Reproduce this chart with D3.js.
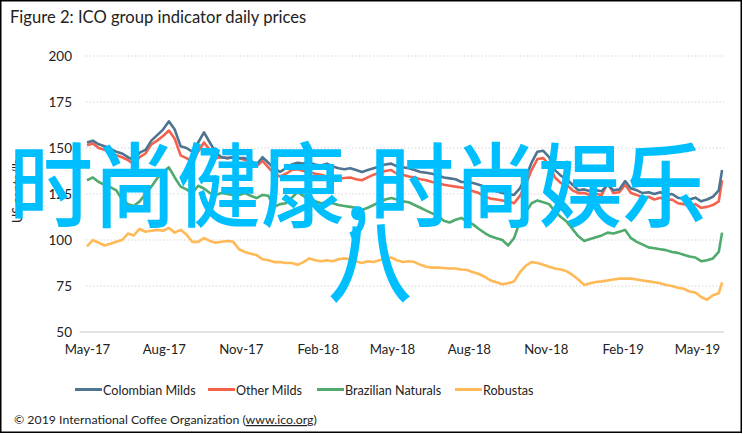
<!DOCTYPE html>
<html><head><meta charset="utf-8">
<script src="https://cdn.jsdelivr.net/npm/d3@7"></script>
<style>body{margin:0;background:#fff}svg{display:block}</style>
</head><body>
<svg id="c" width="743" height="435"></svg>
<script>
const dates = ["2017-05-01","2017-05-08","2017-05-15","2017-05-22","2017-05-29","2017-06-05","2017-06-12","2017-06-19","2017-06-26","2017-07-03","2017-07-10","2017-07-17","2017-07-24","2017-07-31","2017-08-07","2017-08-14","2017-08-21","2017-08-28","2017-09-04","2017-09-11","2017-09-18","2017-09-25","2017-10-02","2017-10-09","2017-10-16","2017-10-23","2017-10-30","2017-11-06","2017-11-13","2017-11-20","2017-11-27","2017-12-04","2017-12-11","2017-12-18","2017-12-25","2018-01-01","2018-01-08","2018-01-15","2018-01-22","2018-01-29","2018-02-05","2018-02-12","2018-02-19","2018-02-26","2018-03-05","2018-03-12","2018-03-19","2018-03-26","2018-04-02","2018-04-09","2018-04-16","2018-04-23","2018-04-30","2018-05-07","2018-05-14","2018-05-21","2018-05-28","2018-06-04","2018-06-11","2018-06-18","2018-06-25","2018-07-02","2018-07-09","2018-07-16","2018-07-23","2018-07-30","2018-08-06","2018-08-13","2018-08-20","2018-08-27","2018-09-03","2018-09-10","2018-09-17","2018-09-24","2018-10-01","2018-10-08","2018-10-15","2018-10-22","2018-10-29","2018-11-05","2018-11-12","2018-11-19","2018-11-26","2018-12-03","2018-12-10","2018-12-17","2018-12-24","2018-12-31","2019-01-07","2019-01-14","2019-01-21","2019-01-28","2019-02-04","2019-02-11","2019-02-18","2019-02-25","2019-03-04","2019-03-11","2019-03-18","2019-03-25","2019-04-01","2019-04-08","2019-04-15","2019-04-22","2019-04-29","2019-05-06","2019-05-13","2019-05-20","2019-05-27","2019-05-31"];

const colombianMilds = [153,154,152,151,149.5,148,147,145,143.5,147.5,149,154,157,160,164.5,160,151,150,148,153,158.5,153,147.5,145,144.5,145,144.5,144.5,143,141,145,142,139,137,139,141,142,141.5,142,141,140.5,141.5,140,139,138.5,139,138,137,138,139,140,141,141.5,140,139.5,139,138,137,136.5,136,135,134,133.5,133,131.5,131.5,131,130,129,128,126.5,125.5,125,124.5,128,134,142,148,148.5,145,138,135,133,130,127,127.5,126.5,127,126.5,130,127,127.5,132,128,127,125.5,126,125,126,124.5,125,123,122.5,122,123,121,122,123.5,127,138];

const otherMilds = [151.5,152.5,150,149,147.5,146,145,143.5,141,145,147,152,154,156.5,159.5,155,146,144.5,142.5,148,153,149,144.5,145,144.5,145,144.5,143.5,142.5,140,143,139.5,136,134.5,136,138,138.5,137.5,137,136,135.5,134.5,134,133.5,133.7,134,133,132.5,134,135.5,136.5,137.5,138,136,135.5,134.5,134,133,132.5,131.5,131,130,129.5,129,128.5,128,126.5,125.5,123.5,122.5,122,121.5,121,120,124,130,138,144,144.5,141,134,131,130,127,125.5,125.5,124.5,125,124.5,131,125.5,126,130,125.5,124.5,123,123.5,122,123,121.5,122,120,119.5,118.5,119.5,117.5,118,119,121,132.5];

const brazilianNaturals = [132.5,134,131.5,130,128.8,127,122,119.5,118.5,121,125,129,133.5,137,139.5,134,129,127.5,125.5,129.5,128,125.5,124.5,125.5,125,124.5,124.5,125.5,124,122.8,124.5,124,118,119.5,120,123,126,124,122,121,120,120.5,120,119,118.5,118,117.5,116.3,117.5,119,120.5,122,122.8,122,121,120.5,119,117.5,116,114.5,113,110.5,109.5,111,112,110,108.5,106,103.8,102,101,100,97,101,110,115,120,121.5,120.5,119.5,115.5,112.5,110,106,102,99.5,100.5,101.5,102.5,104,103.5,104.5,105.5,101,99,97.5,96,95.5,95,94.5,93.5,93,92,91,90.5,88.5,89,90,93.5,104];

const robustas = [96.5,100,98.5,97,98,99,100,103.5,102.5,106,104.5,105,105.5,105,106.5,104,105.5,103,99,99,101,99.5,98.5,99,99.5,99,95,93.5,92.5,91.8,89.5,89,88,88,87.5,87.5,86.5,88,90,89,88.5,89,88.5,89.5,90,89.5,88.5,87.5,88.5,88,89,90,90.5,89,88,88.5,88,86.5,85.5,85,85,84.8,84.5,84.5,84,83.7,82.5,81.5,80,78,77,76,76.5,77.5,82.5,86,88,87.5,86.5,85.5,84.5,84,83,81,78.5,75.5,76.5,77.2,77.5,78,78.5,79,79,79,78.5,78,77.5,77,76.5,75.5,75,74,73.5,72,71.5,69,67.5,70,71,77];

const seriesNames = ["Colombian Milds","Other Milds","Brazilian Naturals","Robustas"];
const seriesColors = ["#4f7490","#f4624e","#4faa6c","#ffb957"];
const yTicks = [50,75,100,125,150,175,200];
const xTickDates = ["2017-05-01","2017-08-01","2017-11-01","2018-02-01","2018-05-01","2018-08-01","2018-11-01","2019-02-01","2019-05-01"];
const xTickLabels = ["May-17","Aug-17","Nov-17","Feb-18","May-18","Aug-18","Nov-18","Feb-19","May-19"];
const titleText = "Figure 2: ICO group indicator daily prices";
const yAxisTitle = "US cents/lb";
const sourceText = "© 2019 International Coffee Organization (";
const sourceLink = "www.ico.org";
const overlayLine1 = "时尚健康,时尚娱乐";
const overlayLine2 = "八";

const parse = d3.timeParse("%Y-%m-%d");
const allSeries = [colombianMilds, otherMilds, brazilianNaturals, robustas];
const svg = d3.select("#c");
const FONT = "Lato, 'Open Sans', sans-serif";

// frame
svg.append("rect").attr("x",0.75).attr("y",0.75).attr("width",740.5).attr("height",431.5)
  .attr("fill","#fff").attr("stroke","#000").attr("stroke-width",1.5);

const x = d3.scaleTime().domain([parse("2017-05-01"), parse("2019-06-03")]).range([87, 724.6]);
const y = d3.scaleLinear().domain([50,200]).range([332,56]);

// title
svg.append("text").attr("x",10).attr("y",23).attr("font-family",FONT).attr("font-size",16.6)
  .attr("fill","#222").text(titleText);

// gridlines
svg.append("g").selectAll("line").data(yTicks.filter(t=>t>50)).join("line")
  .attr("x1",86).attr("x2",724).attr("y1",d=>y(d)).attr("y2",d=>y(d))
  .attr("stroke","#cfcfcf").attr("stroke-width",1.2).attr("stroke-dasharray","1.3,2.2");
svg.append("line").attr("x1",80).attr("x2",724).attr("y1",y(50)).attr("y2",y(50))
  .attr("stroke","#d9d9d9").attr("stroke-width",1.5);

// y axis labels
const yAxis = svg.append("g").attr("transform","translate(78,0)")
  .call(d3.axisLeft(y).tickValues(yTicks).tickSize(0).tickPadding(6));
yAxis.select(".domain").remove();
yAxis.selectAll("text").attr("font-family",FONT).attr("font-size",13.5).attr("fill","#222");

// x axis labels
const xAxis = svg.append("g").attr("transform","translate(0,342)")
  .call(d3.axisBottom(x).tickValues(xTickDates.map(parse)).tickSize(0).tickPadding(3)
    .tickFormat((d,i)=>xTickLabels[i]));
xAxis.select(".domain").remove();
xAxis.selectAll("text").attr("font-family",FONT).attr("font-size",13.2).attr("fill","#222");

// y axis title
svg.append("text").attr("transform","translate(22,191) rotate(-90)").attr("text-anchor","middle")
  .attr("font-family",FONT).attr("font-size",12.5).attr("fill","#222").text(yAxisTitle);

// lines
const line = d3.line().x((d,i)=>x(parse(dates[i]))).y(d=>y(d));
[3,2,1,0].forEach(k=>{
  svg.append("path").datum(allSeries[k]).attr("d",line).attr("fill","none")
    .attr("stroke",seriesColors[k]).attr("stroke-width",2.6).attr("stroke-linejoin","round");
});

// legend
const legendX = [75,208,317,455];
const lg = svg.append("g");
seriesNames.forEach((n,i)=>{
  lg.append("line").attr("x1",legendX[i]).attr("x2",legendX[i]+27).attr("y1",389.5).attr("y2",389.5)
    .attr("stroke",seriesColors[i]).attr("stroke-width",3);
  lg.append("text").attr("x",legendX[i]+28).attr("y",394.5).attr("font-family",FONT)
    .attr("font-size",12.6).attr("fill","#222").text(n);
});

// source
const src = svg.append("text").attr("x",14).attr("y",424).attr("font-family",FONT)
  .attr("font-size",12.3).attr("fill","#222");
src.append("tspan").text(sourceText);
src.append("tspan").attr("text-decoration","underline").text(sourceLink);
src.append("tspan").text(")");

// overlay text
svg.append("text").attr("transform","translate(9,220) scale(1,1.1)").attr("font-family","'Noto Sans CJK SC'")
  .attr("font-weight",500).attr("font-size",84).attr("fill","#00bfff").text(overlayLine1);
svg.append("text").attr("transform","translate(370,295) scale(1,1.1)").attr("text-anchor","middle")
  .attr("font-family","'Noto Sans CJK SC'").attr("font-weight",500)
  .attr("font-size",84).attr("fill","#00bfff").text(overlayLine2);
</script>
</body></html>
